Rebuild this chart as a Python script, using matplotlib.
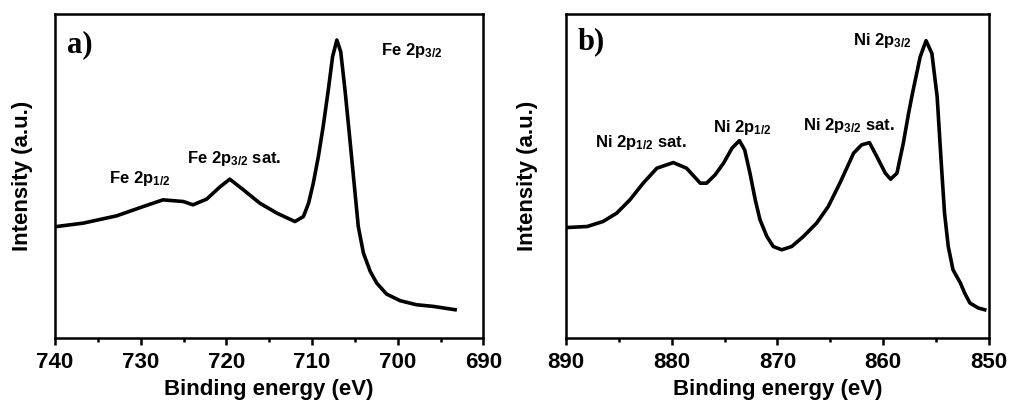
import matplotlib
matplotlib.use("Agg")
import matplotlib.pyplot as plt
from matplotlib.ticker import MultipleLocator

plt.rcParams['font.family'] = ['Liberation Sans', 'DejaVu Sans']
plt.rcParams['font.weight'] = 'bold'
plt.rcParams['mathtext.default'] = 'regular'

# Fe 2p spectrum (binding energy in eV, intensity in a.u.)
fe_energy = [739.8, 736.7, 732.8, 729.7, 727.4, 725.0, 723.9, 722.3, 720.7, 719.6,
             718.0, 716.1, 714.1, 712.0, 711.0, 710.4, 709.85, 709.26, 708.7, 708.1,
             707.6, 707.1, 706.65, 706.15, 705.65, 705.2, 704.6, 704.0, 703.2, 702.45,
             701.3, 699.7, 697.8, 695.8, 693.3]
fe_intensity = [111.3, 114.7, 122.0, 131.3, 138.0, 136.3, 133.0, 138.7, 151.3, 158.7,
                148.0, 134.7, 124.7, 116.3, 121.3, 134.7, 154.7, 181.3, 211.3, 248.0,
                281.3, 298.0, 286.3, 248.0, 204.7, 164.7, 111.3, 84.7, 66.3, 54.7,
                43.7, 37.0, 33.0, 31.3, 28.0]

# Ni 2p spectrum
ni_energy = [889.9, 888.0, 886.5, 885.2, 883.95, 882.7, 881.4, 879.85, 878.6, 877.3,
             876.7, 875.9, 875.1, 874.3, 873.6, 873.1, 872.6, 872.1, 871.65, 871.0,
             870.4, 869.6, 868.65, 867.55, 866.3, 865.2, 864.1, 862.8, 862.05, 861.3,
             860.6, 859.8, 859.3, 858.7, 858.1, 857.6, 857.2, 856.5, 855.95, 855.4,
             854.9, 854.5, 854.2, 853.85, 853.4, 852.7, 852.3, 851.8, 851.0, 850.4]
ni_intensity = [110.3, 111.3, 116.3, 124.7, 138.0, 154.7, 169.7, 175.3, 169.7, 154.7,
                154.7, 163.0, 174.7, 189.7, 197.3, 188.0, 164.7, 138.0, 118.0, 101.3,
                91.3, 88.0, 91.3, 101.3, 114.7, 131.3, 154.7, 184.7, 193.0, 195.3,
                181.3, 164.7, 158.7, 164.7, 194.7, 224.7, 246.3, 281.3, 297.3, 284.7,
                241.3, 173.0, 124.7, 91.3, 68.0, 54.7, 44.7, 34.7, 29.7, 28.0]

fe_labels = [(r'Fe 2p$_{3/2}$', 698.4, 283.0),
             (r'Fe 2p$_{3/2}$ sat.', 719.05, 175.0),
             (r'Fe 2p$_{1/2}$', 730.1, 155.0)]
ni_labels = [(r'Ni 2p$_{3/2}$', 860.1, 293.0),
             (r'Ni 2p$_{3/2}$ sat.', 863.3, 208.0),
             (r'Ni 2p$_{1/2}$', 873.3, 206.0),
             (r'Ni 2p$_{1/2}$ sat.', 882.9, 191.0)]

fig = plt.figure(figsize=(10.11, 4.09), dpi=100)
ax_a = fig.add_axes([0.0544, 0.1743, 0.4237, 0.7914])
ax_b = fig.add_axes([0.5598, 0.1743, 0.4184, 0.7914])

panels = [
    (ax_a, fe_energy, fe_intensity, (740, 690), fe_labels, 'a)', -0.051, 0.904),
    (ax_b, ni_energy, ni_intensity, (890, 850), ni_labels, 'b)', -0.066, 0.913),
]

for ax, x, y, xlim, labels, tag, ylab_x, tag_y in panels:
    ax.plot(x, y, color='black', linewidth=2.6, solid_joinstyle='round')
    ax.set_xlim(*xlim)
    ax.set_ylim(0, 324)
    ax.set_yticks([])
    ax.xaxis.set_major_locator(MultipleLocator(10))
    ax.xaxis.set_minor_locator(MultipleLocator(5))
    ax.tick_params(axis='x', which='major', direction='out', length=5, width=1.8,
                   labelsize=16, pad=5)
    ax.tick_params(axis='x', which='minor', direction='out', length=3, width=1.8)
    for lbl in ax.get_xticklabels():
        lbl.set_fontweight('bold')
    for sp in ax.spines.values():
        sp.set_linewidth(1.8)
    ax.set_xlabel('Binding energy (eV)', fontsize=16, fontweight='bold', va='top')
    ax.xaxis.set_label_coords(0.5, -0.128)
    ax.set_ylabel('Intensity (a.u.)', fontsize=16, fontweight='bold')
    ax.yaxis.set_label_coords(ylab_x, 0.5)
    for text, ex, ey in labels:
        ax.text(ex, ey, text, fontsize=12, fontweight='bold', ha='center', va='baseline')
    ax.text(0.028, tag_y, tag, transform=ax.transAxes, fontsize=22, fontweight='bold',
            family='Liberation Serif', va='center', ha='left')

fig.savefig('out.png', dpi=100)
